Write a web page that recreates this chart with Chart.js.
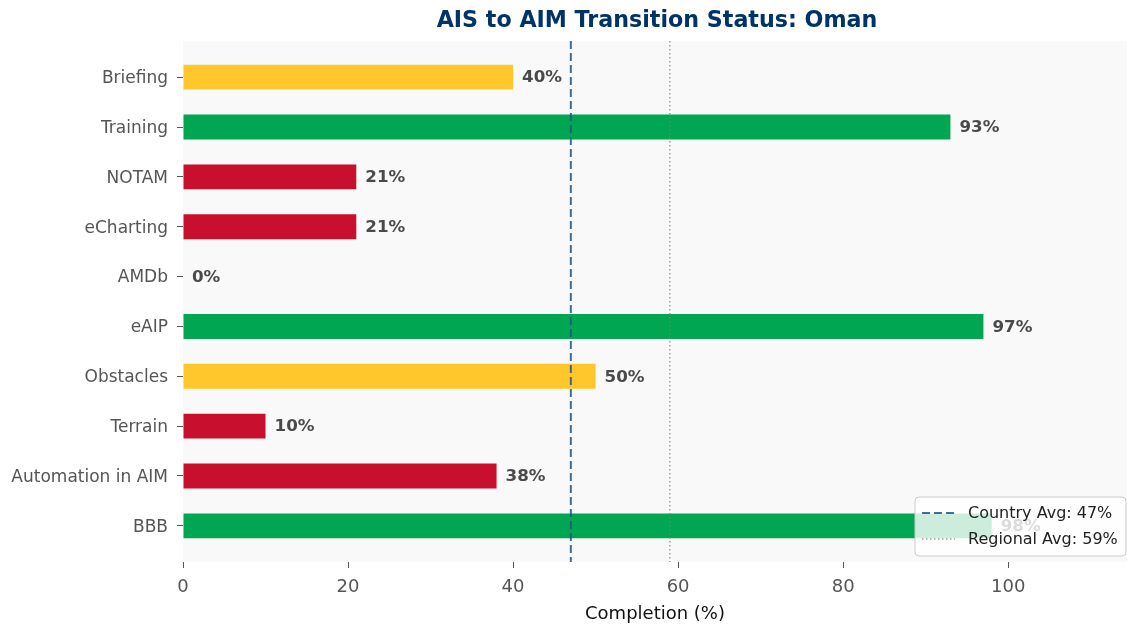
<!DOCTYPE html>
<html>
<head>
<meta charset="utf-8">
<script src="https://cdn.jsdelivr.net/npm/chart.js@4/dist/chart.umd.min.js"></script>
<style>
  body { margin: 0; background: #fff; }
  canvas { display: block; }
</style>
</head>
<body>
<canvas id="chart" width="1127" height="625"></canvas>
<script>
// top to bottom, as in the picture
const categories = ["Briefing", "Training", "NOTAM", "eCharting", "AMDb", "eAIP", "Obstacles", "Terrain", "Automation in AIM", "BBB"];
const completion = [40, 93, 21, 21, 0, 97, 50, 10, 38, 98];
const xTicks = [0, 20, 40, 60, 80, 100];
const countryAvg = 47;
const regionalAvg = 59;

const YELLOW = "#FFC72C";
const GREEN = "#00A651";
const RED = "#C8102E";

function statusColor(v) {
  if (v >= 80) return GREEN;
  if (v >= 40) return YELLOW;
  return RED;
}

const yMin = -0.725;
const yMax = categories.length - 1 + 0.725;

const plotBackground = {
  id: "plotBackground",
  beforeDraw(chart) {
    const { ctx, chartArea: a } = chart;
    ctx.save();
    ctx.fillStyle = "#f9f9f9";
    ctx.fillRect(a.left, a.top, a.right - a.left, a.bottom - a.top);
    ctx.restore();
  },
};

const valueLabels = {
  id: "valueLabels",
  afterDatasetsDraw(chart) {
    const { ctx } = chart;
    const meta = chart.getDatasetMeta(2);
    ctx.save();
    ctx.font = "bold 16.7px 'DejaVu Sans'";
    ctx.fillStyle = "#4a4a4a";
    ctx.textBaseline = "middle";
    meta.data.forEach((bar, i) => {
      ctx.fillText(completion[i] + "%", bar.x + 9, bar.y + 1);
    });
    ctx.restore();
  },
};

const titleAndLegend = {
  id: "titleAndLegend",
  afterDraw(chart) {
    const { ctx, chartArea: a } = chart;
    ctx.save();
    // title centred on the plot
    ctx.font = "bold 22.2px 'DejaVu Sans'";
    ctx.fillStyle = "#003366";
    ctx.textAlign = "center";
    ctx.textBaseline = "middle";
    ctx.fillText("AIS to AIM Transition Status: Oman", (a.left + a.right) / 2 + 2, 21);

    // legend box, lower right
    const w = 211, h = 59;
    const x = a.right - w - 1, y = a.bottom - h - 6;
    ctx.beginPath();
    ctx.roundRect(x, y, w, h, 4);
    ctx.fillStyle = "rgba(255,255,255,0.8)";
    ctx.fill();
    ctx.strokeStyle = "#cccccc";
    ctx.lineWidth = 1;
    ctx.stroke();

    const rows = [chart.data.datasets[0], chart.data.datasets[1]];
    ctx.textAlign = "left";
    ctx.font = "16px 'DejaVu Sans'";
    rows.forEach((ds, i) => {
      const ry = y + 16 + i * 26;
      ctx.beginPath();
      ctx.setLineDash(ds.borderDash);
      ctx.strokeStyle = ds.borderColor;
      ctx.lineWidth = ds.borderWidth;
      ctx.moveTo(x + 7, ry);
      ctx.lineTo(x + 40, ry);
      ctx.stroke();
      ctx.setLineDash([]);
      ctx.fillStyle = "#222";
      ctx.fillText(ds.label, x + 53, ry + 1);
    });
    ctx.restore();
  },
};

new Chart(document.getElementById("chart"), {
  type: "bar",
  data: {
    datasets: [
      {
        type: "line",
        label: "Country Avg: " + countryAvg + "%",
        data: [{ x: countryAvg, y: yMin }, { x: countryAvg, y: yMax }],
        borderColor: "rgba(31,86,135,0.85)",
        borderWidth: 2,
        borderDash: [8, 4],
        pointRadius: 0,
        fill: false,
      },
      {
        type: "line",
        label: "Regional Avg: " + regionalAvg + "%",
        data: [{ x: regionalAvg, y: yMin }, { x: regionalAvg, y: yMax }],
        borderColor: "rgba(128,128,128,0.75)",
        borderWidth: 1.5,
        borderDash: [1.5, 2.5],
        pointRadius: 0,
        fill: false,
      },
      {
        label: "Completion",
        data: completion.map((v, i) => ({ x: v, y: i })),
        backgroundColor: completion.map(statusColor),
        categoryPercentage: 1,
        barPercentage: 0.5,
      },
    ],
  },
  options: {
    responsive: false,
    animation: false,
    indexAxis: "y",
    layout: { padding: { top: 41, right: 0, left: 0, bottom: 0 } },
    plugins: {
      legend: { display: false },
      tooltip: { enabled: false },
    },
    scales: {
      x: {
        type: "linear",
        min: 0,
        max: 114.4,
        afterBuildTicks: (s) => { s.ticks = xTicks.map((v) => ({ value: v })); },
        afterFit: (s) => { s.height = 63; },
        border: { display: false },
        grid: { drawOnChartArea: false, tickLength: 6, tickColor: "#555", tickWidth: 1 },
        ticks: { color: "#555", font: { family: "DejaVu Sans", size: 18 }, padding: 9 },
        title: {
          display: true,
          text: "Completion (%)",
          color: "#111",
          font: { family: "DejaVu Sans", size: 18 },
          padding: { top: 0, bottom: 0 },
        },
      },
      y: {
        type: "linear",
        reverse: true,
        offset: false,
        min: yMin,
        max: yMax,
        afterBuildTicks: (s) => { s.ticks = categories.map((c, i) => ({ value: i })); },
        afterFit: (s) => { s.width = 183; },
        border: { display: false },
        grid: { offset: false, drawOnChartArea: false, tickLength: 6, tickColor: "#555", tickWidth: 1 },
        ticks: {
          color: "#555",
          font: { family: "DejaVu Sans", size: 17 },
          padding: 9,
          labelOffset: 1.5,
          callback: (v) => categories[v] ?? "",
        },
      },
    },
  },
  plugins: [plotBackground, valueLabels, titleAndLegend],
});
</script>
</body>
</html>
